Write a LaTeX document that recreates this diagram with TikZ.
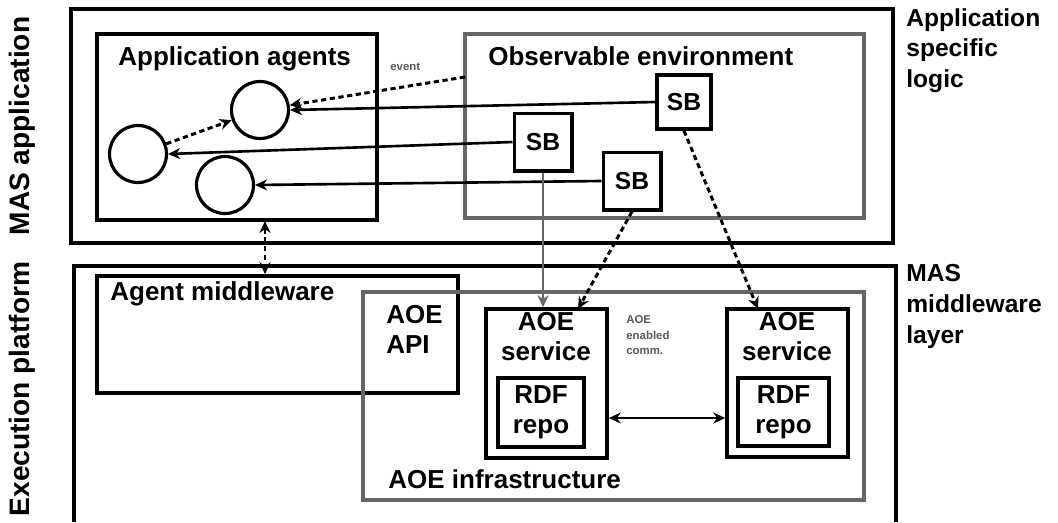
\documentclass[tikz,border=0pt]{standalone}
\usepackage{fontspec}
\setmainfont{Liberation Sans}
\usetikzlibrary{fit,arrows.meta}

\begin{document}
\begin{tikzpicture}[x=0.02cm, y=-0.02cm, >={Stealth[length=2.4mm,width=2.2mm]},
  layer/.style = {draw, line width=2.2pt, inner sep=0},
  box/.style = {draw, line width=2pt, inner sep=0},
  greybox/.style = {draw=black!60, line width=2pt, inner sep=0},
  agent/.style = {draw, circle, line width=1.8pt, minimum size=1.14cm, inner sep=0},
  sb/.style = {draw, line width=2pt, minimum size=1.15cm, inner sep=0, font=\fontsize{14}{16}\selectfont\bfseries},
  lbl/.style = {anchor=north west, inner sep=0, font=\fontsize{14.8}{17}\selectfont\bfseries},
  side/.style = {anchor=north west, inner sep=0, align=left, font=\fontsize{14}{17.5}\selectfont\bfseries},
  vlbl/.style = {rotate=90, anchor=south, inner sep=0, font=\fontsize{16}{19}\selectfont\bfseries},
  tiny/.style = {anchor=north west, inner sep=0, align=left, text=black!65, font=\fontsize{6.5}{9}\selectfont\bfseries},
  link/.style = {line width=1.5pt, ->},
  dlink/.style = {line width=1.7pt, densely dashed, ->}]
	\useasboundingbox (0,0) rectangle (1058,522);

	\node[vlbl] (mas) at (36,126) {MAS application};
	\node[vlbl] (exec) at (36,389) {Execution platform};

	\node[layer, fit={(71,9) (893,243)}] (app) {};
	\draw[line width=2.2pt] (74,522) |- (896,266) -- (896,522);

	\node[side] (logic) at (906,8) {Application\\specific\\logic};
	\node[side] (mwlayer) at (906,264) {MAS\\middleware\\layer};

	\node[box, fit={(97,34) (377,220)}] (agents) {};
	\node[lbl] (agentstxt) at (118,46) {Application agents};
	\node[greybox, fit={(465,34) (864,218)}] (obs) {};
	\node[lbl] (obstxt) at (488,46) {Observable environment};

	\node[agent] (a1) at (138,154) {};
	\node[agent] (a2) at (260,110) {};
	\node[agent] (a3) at (225,185) {};

	\node[sb] (sb1) at (543,142) {SB};
	\node[sb, minimum size=1.08cm] (sb2) at (684,102) {SB};
	\node[sb] (sb3) at (632,181) {SB};

	\coordinate (evsrc) at (465,77);
	\draw[dlink] (evsrc) -- (a2);
	\node[tiny] (evtxt) at (390,63) {event};
	\draw[dlink] (a1) -- (a2);
	\draw[link] (sb2.west) -- (a2.east);
	\draw[link] (sb1.west) -- (a1.east);
	\draw[link] (sb3.west) -- (a3.east);

	\node[box, fit={(97,276) (458,393)}] (amw) {};
	\node[lbl] (amwtxt) at (110,281) {Agent middleware};
	\draw[dlink, <->] (265,221) -- (amw.north -| 265,0);

	\node[greybox, fit={(363,292) (864,500)}] (infra) {};
	\node[lbl, align=left] (api) at (386,305) {AOE\\API};
	\node[lbl] (infratxt) at (388,469) {AOE infrastructure};

	\node[box, fit={(486,309) (607,458)}] (svc1) {};
	\node[lbl, anchor=north, align=center] (svc1txt) at (546,312) {AOE\\service};
	\node[box, fit={(498,378) (584,447)}] (rdf1) {};
	\node[lbl, anchor=center, align=center] (rdf1txt) at (rdf1) {RDF\\repo};

	\node[box, fit={(727,309) (848,457)}] (svc2) {};
	\node[lbl, anchor=north, align=center] (svc2txt) at (787,312) {AOE\\service};
	\node[box, fit={(738,378) (829,446)}] (rdf2) {};
	\node[lbl, anchor=center, align=center] (rdf2txt) at (rdf2) {RDF\\repo};

	\node[tiny] (commtxt) at (626,315) {AOE\\enabled\\comm.};
	\draw[line width=1.4pt, <->] (svc1.east |- 0,418) -- (svc2.west |- 0,418);

	\draw[link, draw=black!60] (sb1.south) -- (svc1.north -| sb1.south);
	\draw[dlink] (sb3.south) -- (578,309);
	\draw[dlink] (sb2.south) -- (758,309);
\end{tikzpicture}
\end{document}
